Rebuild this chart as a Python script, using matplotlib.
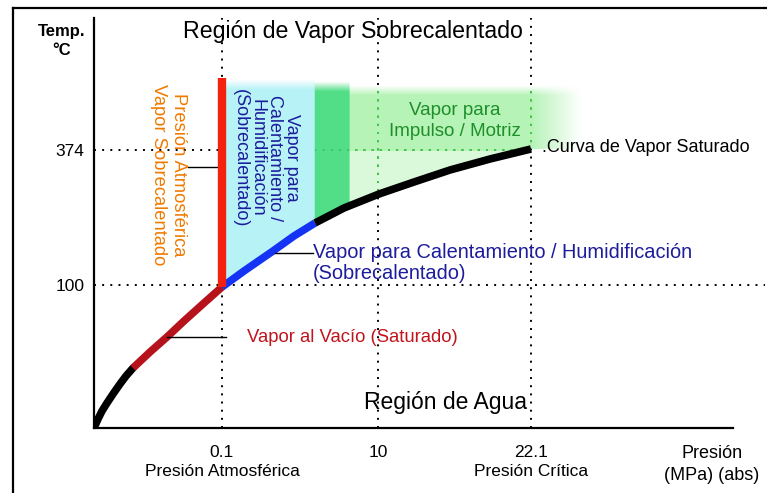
import numpy as np
import matplotlib
matplotlib.use("Agg")
import matplotlib.pyplot as plt
from matplotlib.lines import Line2D
from matplotlib.patches import Polygon

plt.rcParams["font.family"] = ["Liberation Sans", "DejaVu Sans"]

# %% data (schematic diagram: positions along the pressure / temperature axes)

curve_x = [0, 4, 8, 13, 19, 26, 32, 39, 56, 73, 90, 110, 128,
           150, 179, 200, 221, 250, 285, 320, 356, 396, 437]
curve_y = [0, 9, 17, 25, 34, 44, 52, 60, 76, 91, 107, 125, 141,
           157, 177, 192, 205, 220, 234, 246, 258, 269, 279]
segment_ends = [7, 12, 16, 22]
segment_colors = ["black", "#b5121b", "#1433f5", "black"]

x_ticks = [128, 284, 437]
x_labels = ["0.1\nPresión Atmosférica", "10", "22.1\nPresión Crítica"]
y_ticks = [143, 278]
y_labels = ["100", "374"]

atm_top = 350

# %% figure

fig = plt.figure(figsize=(7.67, 4.93), dpi=100)
ax = fig.add_axes([94 / 767, 65 / 493, 639 / 767, 410 / 493])
ax.set_xlim(0, 639)
ax.set_ylim(0, 410)

for side in ["top", "right"]:
    ax.spines[side].set_visible(False)
for side in ["left", "bottom"]:
    ax.spines[side].set_linewidth(1.6)

ax.set_xticks(x_ticks, x_labels)
ax.set_yticks(y_ticks, y_labels)
ax.tick_params(axis="x", length=0, pad=12, labelsize=12.5)
ax.tick_params(axis="y", length=0, pad=7, labelsize=12.5)
for lab in ax.get_xticklabels():
    lab.set_linespacing(1.4)

# frame around the picture
fig.add_artist(Line2D([13 / 767, 1], [1 - 8 / 493] * 2, color="black", lw=1.6))
fig.add_artist(Line2D([13 / 767] * 2, [0, 1 - 8 / 493], color="black", lw=1.6))

# dotted guide lines
dot_style = dict(lw=1.4, dashes=(1, 3.2), zorder=1, clip_on=False)
guides = [
    ([0, curve_x[-1]], [y_ticks[1]] * 2),
    ([0, 671], [y_ticks[0]] * 2),
]
for xt in x_ticks:
    guides.append(([xt, xt], [0, 410]))
for gxs, gys in guides:
    ax.plot(gxs, gys, color="black", **dot_style)

# coloured regions above the curve
gx = np.linspace(128, 500, 373)
gy = np.linspace(120, 360, 241)
X, Y = np.meshgrid(gx, gy)
rgba = np.ones((len(gy), len(gx), 4))
blue = X < 221
strip = (X >= 221) & (X < 256)
band = X >= 256
rgba[blue, :3] = [0.72, 0.95, 0.97]
rgba[blue, 3] = np.clip((atm_top - 2 - Y[blue]) / 10, 0, 1)
rgba[strip, :3] = [0.24, 0.86, 0.48]
rgba[strip, 3] = 0.9 * np.clip((atm_top - 4 - Y[strip]) / 10, 0, 1)
right_fade = np.clip((488 - X) / 50, 0, 1)
band_alpha = np.where(Y > 276, 0.52, 0.26) * np.clip((342 - Y) / 10, 0, 1) * right_fade
rgba[band, :3] = [0.45, 0.91, 0.46]
rgba[band, 3] = band_alpha[band]

clip_all = Polygon(
    list(zip(curve_x[12:], curve_y[12:])) + [(500, 279), (500, 360), (128, 360)],
    closed=True, transform=ax.transData, facecolor="none", edgecolor="none",
)
ax.add_patch(clip_all)
img = ax.imshow(rgba, extent=[128, 500, 120, 360], origin="lower",
                aspect="auto", interpolation="bilinear", zorder=2)
img.set_clip_path(clip_all)

clip_band = Polygon(
    list(zip(curve_x[17:], curve_y[17:])) + [(480, 279), (480, 342), (256, 342), (256, 222)],
    closed=True, transform=ax.transData, facecolor="none", edgecolor="none",
)
ax.add_patch(clip_band)
for gxs, gys in guides:
    ln, = ax.plot(gxs, gys, color="#3fd04a", lw=1.4, dashes=(1, 3.2), zorder=2.5)
    ln.set_clip_path(clip_band)

# saturation curve
start = 0
for end, col in zip(segment_ends, segment_colors):
    ax.plot(curve_x[start:end + 1], curve_y[start:end + 1], color=col, lw=5.5,
            solid_capstyle="round" if start == 0 else "butt",
            solid_joinstyle="round", zorder=3)
    start = end

# atmospheric pressure line
ax.plot([x_ticks[0]] * 2, [curve_y[12], atm_top], color="#f5210f", lw=6,
        solid_capstyle="butt", zorder=4)

# leader lines
ax.plot([94, 124], [261, 261], color="black", lw=1, zorder=3)
ax.plot([181, 219], [175, 175], color="black", lw=1, zorder=3)
ax.plot([73, 132], [91, 91], color="black", lw=1, zorder=3)

# texts
ax.text(259, 396, "Región de Vapor Sobrecalentado", fontsize=16.7,
        ha="center", va="center", zorder=5)
ax.text(352, 25, "Región de Agua", fontsize=16.5, ha="center", va="center", zorder=5)
ax.text(361, 307, "Vapor para\nImpulso / Motriz", fontsize=13.5, color="#1f8f2a",
        ha="center", va="center", linespacing=1.3, zorder=5)
ax.text(448, 280, ".Curva de Vapor Saturado", fontsize=13, ha="left",
        va="center", zorder=5, clip_on=False)
ax.text(219, 165, "Vapor para Calentamiento / Humidificación\n(Sobrecalentado)",
        fontsize=14.4, color="#1c1c9c", ha="left", va="center", linespacing=1.15,
        zorder=5, clip_on=False)
ax.text(153, 91, "Vapor al Vacío (Saturado)", fontsize=13.3, color="#c0141c",
        ha="left", va="center", zorder=5)
ax.text(74.5, 253, "Presión Atmosférica\nVapor Sobrecalentado", fontsize=13.2,
        color="#f07a00", rotation=-90, ha="center", va="center",
        linespacing=1.2, zorder=5)
ax.text(172, 270, "Vapor para\nCalentamiento /\nHumidificación\n(Sobrecalentado)",
        fontsize=13, color="#1c1c9c", rotation=-90, ha="center", va="center",
        multialignment="center", linespacing=1.0, zorder=5)
ax.text(618, -17, "Presión\n(MPa) (abs)", fontsize=13, ha="center", va="top",
        linespacing=1.4, clip_on=False)
ax.text(-32, 387, "Temp.\n°C", fontsize=12, fontweight="bold", ha="center",
        va="center", linespacing=1.3, clip_on=False)

fig.savefig("out.png", dpi=100)
